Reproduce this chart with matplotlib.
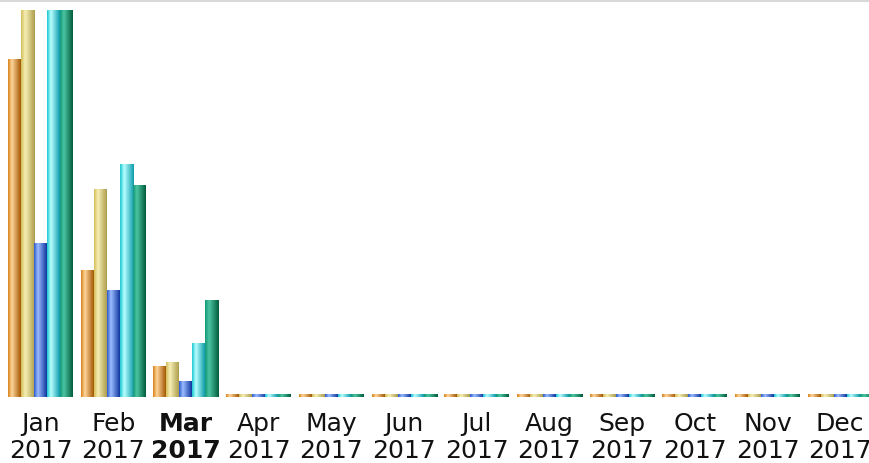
import numpy as np
import matplotlib
matplotlib.use('Agg')
import matplotlib.pyplot as plt
from matplotlib.colors import LinearSegmentedColormap
from matplotlib.lines import Line2D

months = ['Jan', 'Feb', 'Mar', 'Apr', 'May', 'Jun',
          'Jul', 'Aug', 'Sep', 'Oct', 'Nov', 'Dec']
year = '2017'
current_month = 'Mar'

# one list per series (Jan tops run past the plot)
series_a = [338, 127, 31, 3, 3, 3, 3, 3, 3, 3, 3, 3]
series_b = [420, 208, 35, 3, 3, 3, 3, 3, 3, 3, 3, 3]
series_c = [154, 107, 16, 3, 3, 3, 3, 3, 3, 3, 3, 3]
series_d = [450, 233, 54, 3, 3, 3, 3, 3, 3, 3, 3, 3]
series_e = [440, 212, 97, 3, 3, 3, 3, 3, 3, 3, 3, 3]
y_max = 387

# cylinder shading: left edge, highlight, right edge
shades = [
    ('#d8821a', '#ffd69c', '#a45800'),
    ('#d2bd5a', '#f6efb4', '#ad9d4c'),
    ('#2a5ccc', '#9cbcff', '#1036a0'),
    ('#1cc8d2', '#b8ffff', '#0e9cac'),
    ('#12987a', '#4cc4a2', '#005c3c'),
]

fig = plt.figure(figsize=(8.7, 4.64), dpi=100)
ax = fig.add_axes([0, 66 / 464, 1, 387 / 464])

all_series = [series_a, series_b, series_c, series_d, series_e]
n = len(all_series)
bw = 65 / 72.7 / n
x = np.arange(len(months))

grad = np.linspace(0, 1, 64).reshape(1, -1)
for k, (vals, cols) in enumerate(zip(all_series, shades)):
    cmap = LinearSegmentedColormap.from_list(
        f's{k}', [(0, cols[0]), (0.3, cols[1]), (1, cols[2])])
    bars = ax.bar(x - 2 * bw + k * bw, vals, bw, color='none', linewidth=0)
    for b in bars:
        x0, w, h = b.get_x(), b.get_width(), b.get_height()
        ax.imshow(grad, cmap=cmap, aspect='auto', interpolation='bilinear',
                  extent=[x0, x0 + w, 0, h], zorder=2)

left = -2.5 * bw - 8 / 72.7
ax.set_xlim(left, left + 870 / 72.7)
ax.set_ylim(0, y_max)
ax.axis('off')

for i, m in enumerate(months):
    weight = 'bold' if m == current_month else 'normal'
    ax.text(i, -14, f'{m}\n{year}', ha='center', va='top', fontsize=18,
            fontweight=weight, linespacing=1.15, color='#111111',
            clip_on=False)

fig.add_artist(Line2D([0, 1], [1 - 1.5 / 464] * 2, color='#d8d8d8', lw=1.5,
                      transform=fig.transFigure))

fig.savefig('out.png', dpi=100)
